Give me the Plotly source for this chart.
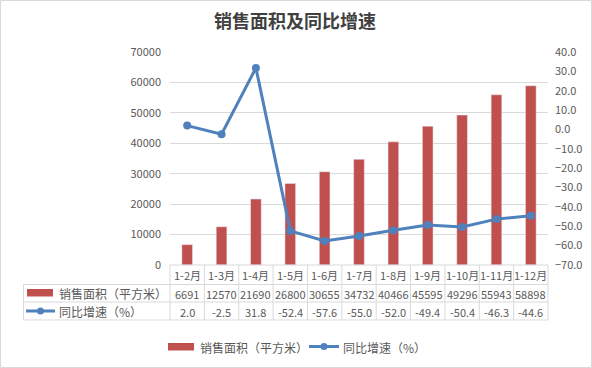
import plotly.graph_objects as go

categories = ["1-2月", "1-3月", "1-4月", "1-5月", "1-6月", "1-7月", "1-8月", "1-9月", "1-10月", "1-11月", "1-12月"]
area = [6691, 12570, 21690, 26800, 30655, 34732, 40466, 45595, 49296, 55943, 58898]
growth = [2.0, -2.5, 31.8, -52.4, -57.6, -55.0, -52.0, -49.4, -50.4, -46.3, -44.6]
area_name = "销售面积（平方米）"
growth_name = "同比增速（%）"
title_text = "销售面积及同比增速"

W, H = 592, 368
L, R, T, B = 170, 44, 52, 103
PW, PH = W - L - R, H - T - B

def px(x):
    return (x - L) / PW

def py(y):
    return (H - B - y) / PH

BAR_C = "#c0504d"
LINE_C = "#4f81bd"
GRID_C = "#d9d9d9"
TXT_C = "#595959"
FONT = "Noto Sans CJK SC"

fig = go.Figure()
fig.add_trace(go.Bar(x=categories, y=area, name=area_name, marker_color=BAR_C,
                     width=0.31, yaxis="y", showlegend=False))
fig.add_trace(go.Scatter(x=categories, y=growth, name=growth_name, mode="lines+markers",
                         line=dict(color=LINE_C, width=3), marker=dict(size=8, color=LINE_C),
                         yaxis="y2", showlegend=False))

shapes = []
ann = []
line_style = dict(color=GRID_C, width=1)
# table horizontal lines
for yy in [284.5, 302, 320]:
    shapes.append(dict(type="line", xref="paper", yref="paper", x0=px(23.5), x1=1,
                       y0=py(yy), y1=py(yy), line=line_style))
# table vertical lines
n = len(categories)
for i in range(n + 1):
    xx = i / n
    shapes.append(dict(type="line", xref="paper", yref="paper", x0=xx, x1=xx,
                       y0=0, y1=py(320), line=line_style))
shapes.append(dict(type="line", xref="paper", yref="paper", x0=px(23.5), x1=px(23.5),
                   y0=py(284.5), y1=py(320), line=line_style))
# axis baseline
shapes.append(dict(type="line", xref="paper", yref="paper", x0=0, x1=1, y0=0, y1=0, line=line_style))

def txt(x, xref, y, text, size=11, xanchor="center"):
    return dict(x=x, xref=xref, y=y, yref="paper", text=text, showarrow=False,
                xanchor=xanchor, yanchor="middle",
                font=dict(size=size, color=TXT_C, family=FONT))

# table texts
for c, a, g in zip(categories, area, growth):
    ann.append(txt(c, "x", py(275), c))
    ann.append(txt(c, "x", py(293.5), str(a)))
    ann.append(txt(c, "x", py(311.5), f"{g:.1f}"))

# table row headers
shapes.append(dict(type="rect", xref="paper", yref="paper", x0=px(27), x1=px(53),
                   y0=py(296.5), y1=py(289), fillcolor=BAR_C, line=dict(width=0)))
ann.append(txt(px(57), "paper", py(293.5), area_name, size=12, xanchor="left"))
shapes.append(dict(type="line", xref="paper", yref="paper", x0=px(26), x1=px(55),
                   y0=py(311), y1=py(311), line=dict(color=LINE_C, width=3)))
shapes.append(dict(type="circle", xref="paper", yref="paper", x0=px(37), x1=px(44),
                   y0=py(307.5), y1=py(314.5), fillcolor=LINE_C, line=dict(width=0)))
ann.append(txt(px(57), "paper", py(311.5), growth_name, size=12, xanchor="left"))

# bottom legend
shapes.append(dict(type="rect", xref="paper", yref="paper", x0=px(168), x1=px(194),
                   y0=py(350.5), y1=py(343), fillcolor=BAR_C, line=dict(width=0)))
ann.append(txt(px(198), "paper", py(347), area_name, size=12, xanchor="left"))
shapes.append(dict(type="line", xref="paper", yref="paper", x0=px(309), x1=px(339),
                   y0=py(346.5), y1=py(346.5), line=dict(color=LINE_C, width=3)))
shapes.append(dict(type="circle", xref="paper", yref="paper", x0=px(320.5), x1=px(327.5),
                   y0=py(343), y1=py(350), fillcolor=LINE_C, line=dict(width=0)))
ann.append(txt(px(341), "paper", py(347), growth_name, size=12, xanchor="left"))

# outer border
shapes.append(dict(type="rect", xref="paper", yref="paper", x0=px(0.5), x1=px(W - 0.5),
                   y0=py(H - 0.5), y1=py(0.5), line=dict(color="#d9d9d9", width=1)))

fig.update_layout(
    width=W, height=H,
    margin=dict(l=L, r=R, t=T, b=B, autoexpand=False),
    paper_bgcolor="white", plot_bgcolor="white",
    title=dict(text="<b>" + title_text + "</b>", x=295 / W, xanchor="center", y=1 - 22 / H,
               yanchor="middle", font=dict(size=18, color="#404040", family=FONT)),
    xaxis=dict(type="category", showticklabels=False, showgrid=False, zeroline=False,
               showline=False, ticks="", range=[-0.5, n - 0.5]),
    yaxis=dict(range=[0, 70000], dtick=10000, showgrid=True, gridcolor=GRID_C, gridwidth=1,
               zeroline=False, showline=False, ticks="", tickformat="d",
               tickfont=dict(size=11, color=TXT_C, family=FONT), ticklabelstandoff=8),
    yaxis2=dict(range=[-70, 40], dtick=10, overlaying="y", side="right", showgrid=False,
                zeroline=False, showline=False, ticks="", tickformat=".1f",
                tickfont=dict(size=11, color=TXT_C, family=FONT), ticklabelstandoff=6),
    shapes=shapes, annotations=ann, showlegend=False,
)

fig.write_html("out.html", config={"displayModeBar": False},
               post_script="document.body.style.margin='0';")
